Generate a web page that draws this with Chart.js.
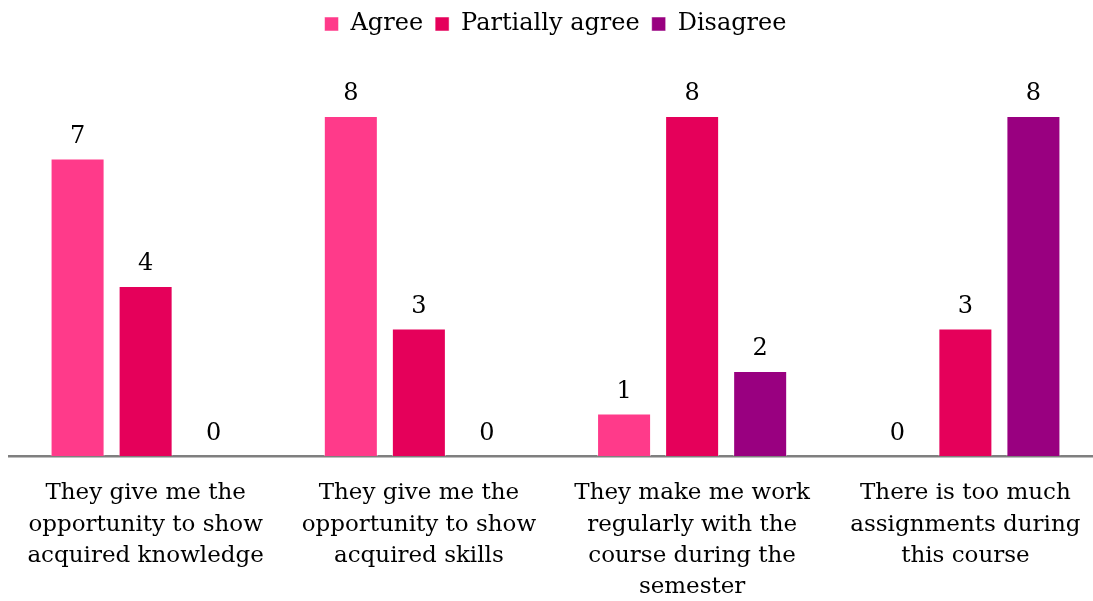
<!DOCTYPE html>
<html>
<head>
<meta charset="utf-8">
<script src="https://cdn.jsdelivr.net/npm/chart.js@4.4.1/dist/chart.umd.min.js"></script>
<style>
	html, body { margin: 0; padding: 0; background: #fff; overflow: hidden; }
	#wrap { position: relative; width: 1110px; height: 601px; }
</style>
</head>
<body>
<div id="wrap"><canvas id="chart"></canvas></div>
<script>
	'use strict';

	// Categories (x tick labels, already split in lines)
	const categories = [
		['They give me the', 'opportunity to show', 'acquired knowledge'],
		['They give me the', 'opportunity to show', 'acquired skills'],
		['They make me work', 'regularly with the', 'course during the', 'semester'],
		['There is too much', 'assignments during', 'this course']
	];

	const seriesNames = ['Agree', 'Partially agree', 'Disagree'];
	const agree = [7, 8, 1, 0];
	const partiallyAgree = [4, 3, 8, 3];
	const disagree = [0, 0, 2, 8];

	const colors = ['#FF3A8A', '#E5005A', '#990080'];
	const fontFamily = "'DejaVu Serif', serif";

	// Value labels above every bar
	const valueLabels = {
		id: 'valueLabels',
		afterDatasetsDraw: function( chart ){
			const ctx = chart.ctx;
			ctx.save();
			ctx.font = '24px ' + fontFamily;
			ctx.fillStyle = '#000';
			ctx.textAlign = 'center';
			ctx.textBaseline = 'alphabetic';
			chart.data.datasets.forEach( function( ds, i ){
				const meta = chart.getDatasetMeta(i);
				meta.data.forEach( function( bar, j ){
					ctx.fillText(String(ds.data[j]), bar.x, bar.y - 16);
				});
			});
			ctx.restore();
		}
	};

	new Chart(document.getElementById('chart'), {
		type: 'bar',
		data: {
			labels: categories,
			datasets: [
				{ label: seriesNames[0], data: agree, backgroundColor: colors[0] },
				{ label: seriesNames[1], data: partiallyAgree, backgroundColor: colors[1] },
				{ label: seriesNames[2], data: disagree, backgroundColor: colors[2] }
			].map( function( ds ){
				ds.borderColor = 'rgba(255,255,255,0.5)';
				ds.borderWidth = 1;
				ds.categoryPercentage = 0.747;
				ds.barPercentage = 0.794;
				return ds;
			})
		},
		options: {
			responsive: true,
			maintainAspectRatio: false,
			animation: false,
			layout: {
				padding: { left: 9, right: 8, top: 0, bottom: 0 }
			},
			plugins: {
				legend: {
					position: 'top',
					labels: {
						boxWidth: 14,
						boxHeight: 14,
						padding: 12,
						color: '#000',
						font: { family: fontFamily, size: 24 }
					}
				},
				tooltip: { enabled: false }
			},
			scales: {
				x: {
					grid: { display: false, drawTicks: false },
					border: { display: true, color: '#7f7f7f', width: 2.5 },
					ticks: {
						color: '#000',
						padding: 22,
						maxRotation: 0,
						autoSkip: false,
						font: { family: fontFamily, size: 23, lineHeight: 1.35 }
					},
					afterFit: function( scale ){
						scale.height = 145;
					}
				},
				y: {
					display: false,
					min: 0,
					max: 9.65
				}
			}
		},
		plugins: [valueLabels]
	});
</script>
</body>
</html>
